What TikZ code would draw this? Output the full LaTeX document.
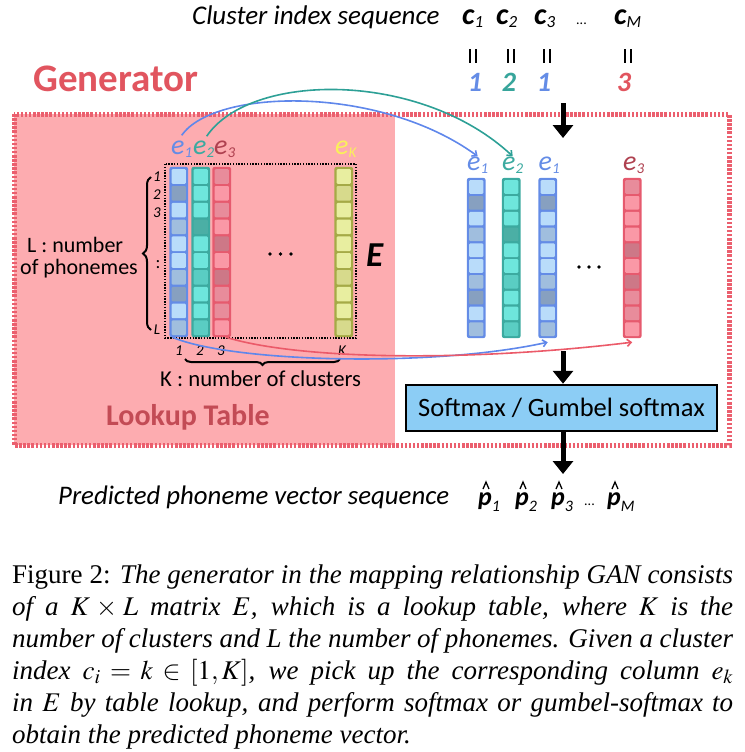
\documentclass[tikz,border=0pt]{standalone}
\usepackage{mathptmx}
\usepackage{fontspec}
\setmainfont{Liberation Serif}
\newfontfamily\calib{Carlito}
\usetikzlibrary{arrows.meta,decorations.pathreplacing,fit}
\newcommand\fsz[1]{\fontsize{#1}{#1}\selectfont}
\newcommand\sbs[1]{\raisebox{-3pt}{\fsz{15}#1}}
\newcommand\csub[1]{{\bfseries c}\raisebox{-2.5pt}{\mdseries\fsz{17}#1}}
\newcommand\pvec[1]{{\bfseries p}\raisebox{-6pt}{\mdseries\fsz{16}#1}}
\definecolor{bB}{RGB}{100,140,230}
\definecolor{bL}{RGB}{185,220,250}
\definecolor{bM}{RGB}{160,190,222}
\definecolor{bD}{RGB}{135,160,192}
\definecolor{tB}{RGB}{60,170,160}
\definecolor{tL}{RGB}{110,230,220}
\definecolor{tM}{RGB}{90,205,195}
\definecolor{tD}{RGB}{75,175,165}
\definecolor{rB}{RGB}{230,90,110}
\definecolor{rL}{RGB}{250,152,166}
\definecolor{rM}{RGB}{232,140,155}
\definecolor{rD}{RGB}{205,120,135}
\definecolor{yB}{RGB}{165,170,70}
\definecolor{yL}{RGB}{232,238,160}
\definecolor{yM}{RGB}{215,218,140}
\definecolor{yD}{RGB}{200,200,120}
\definecolor{pinkbg}{RGB}{253,172,176}
\definecolor{dashred}{RGB}{235,95,110}
\definecolor{genred}{RGB}{225,85,95}
\definecolor{lookred}{RGB}{195,75,85}
\definecolor{softblue}{RGB}{140,205,245}
\definecolor{e3lab}{RGB}{175,65,80}
\definecolor{eKlab}{RGB}{250,240,90}
\definecolor{lnblue}{RGB}{95,135,235}
\definecolor{lnteal}{RGB}{45,160,150}
\definecolor{lnred}{RGB}{235,90,105}
\definecolor{numteal}{RGB}{55,165,155}
% column: name, xleft, ytop, cell height, colour prefix, shades
\newcommand\vcol[6]{%
  \node[fit={(#2,#3) (#2+18.5,#3+10*#4+2)}, inner sep=0pt] (#1) {};
  \fill[#5B, rounded corners=2.5pt] (#1.north west) rectangle (#1.south east);
  \foreach \s [count=\i from 0] in {#6}
    \fill[fill=#5\s, rounded corners=1pt] (#2+2.2,#3+2.2+\i*#4) rectangle (#2+16.3,#3+\i*#4+#4);
}
\begin{document}
\begin{tikzpicture}[x=1pt,y=-1pt,
  txt/.style={inner sep=0pt, font=\calib},
  lab/.style={inner sep=0pt, anchor=base west, font=\calib\itshape\fsz{28}},
  small/.style={inner sep=0pt, font=\calib\itshape\fsz{15}},
  eqbox/.style={inner sep=0pt, minimum width=5.5pt, minimum height=13pt},
  hatline/.style={line width=1.3pt, line join=miter},
  bigarrow/.style={line width=5pt, -{Triangle[width=20pt,length=13pt]}},
  thinarrow/.style={line width=1.6pt, -{Straight Barb[length=4pt,width=7pt]}},
]
\useasboundingbox (0,0) rectangle (744,752);
% background panels
\fill[pinkbg] (14,114) rectangle (395,445);
\draw[dashred, line width=5pt, dash pattern=on 2.5pt off 1.6pt] (14,114) rectangle (729,445);
% header
\node[txt, anchor=base west, font=\calib\itshape\fsz{27}] (clseq) at (192,25) {Cluster index sequence};
\node[txt, anchor=base west, font=\calib\itshape\fsz{30}] (c1) at (462,25) {\csub{1}};
\node[txt, anchor=base west, font=\calib\itshape\fsz{30}] (c2) at (496,25) {\csub{2}};
\node[txt, anchor=base west, font=\calib\itshape\fsz{30}] (c3) at (534,25) {\csub{3}};
\node[txt, anchor=base west, font=\calib\fsz{14}] (cdots) at (576,25) {...};
\node[txt, anchor=base west, font=\calib\itshape\fsz{30}] (cM) at (614,25) {\csub{M}};
\foreach \n/\x in {q1/473,q2/511,q3/547,q4/628}{
  \node[eqbox] (\n) at (\x,56) {};
  \draw[line width=2pt] (\n.north west) -- (\n.south west) (\n.north east) -- (\n.south east);
}
\node[txt, anchor=base, font=\calib\bfseries\itshape\fsz{28}, text=bB] (n1) at (475,92) {1};
\node[txt, anchor=base, font=\calib\bfseries\itshape\fsz{28}, text=numteal] (n2) at (509,92) {2};
\node[txt, anchor=base, font=\calib\bfseries\itshape\fsz{28}, text=bB] (n3) at (544,92) {1};
\node[txt, anchor=base, font=\calib\bfseries\itshape\fsz{28}, text=genred] (n4) at (624,92) {3};
\node[txt, anchor=base west, font=\calib\bfseries\fsz{39}, text=genred] (gen) at (33,92) {Generator};
% matrix
\draw[black, line width=1.6pt, dash pattern=on 1.4pt off 1.4pt] (165,164) rectangle (356,338);
\vcol{colL1}{169.5}{167}{16.8}{b}{L,D,L,M,L,L,M,D,L,M}
\vcol{colL2}{191.5}{167}{16.8}{t}{L,L,L,D,L,L,M,L,L,M}
\vcol{colL3}{212.5}{167}{16.8}{r}{M,L,M,L,D,L,D,M,M,L}
\vcol{colLK}{334.5}{167}{16.8}{y}{L,M,L,L,L,L,M,L,L,M}
\node[lab, text=bB] (le1) at (171,154) {e\sbs{1}};
\node[lab, text=tB] (le2) at (193,154) {e\sbs{2}};
\node[lab, text=e3lab] (le3) at (214,154) {e\sbs{3}};
\node[lab, text=eKlab] (leK) at (335,154) {e\sbs{K}};
\node[small, anchor=base] (r1) at (157,181) {1};
\node[small, anchor=base] (r2) at (157,199) {2};
\node[small, anchor=base] (r3) at (157,217) {3};
\node[small, anchor=base, font=\calib\fsz{18}] (rv) at (158,268) {:};
\node[small, anchor=base] (rL) at (157,334) {L};
\node[small, anchor=base] (k1) at (179,355) {1};
\node[small, anchor=base] (k2) at (200,355) {2};
\node[small, anchor=base] (k3) at (221,355) {3};
\node[small, anchor=base] (kK) at (342,355) {K};
\foreach \x in {270,280.5,291} \fill (\x,254) circle (1.8);
\node[txt, anchor=base west, font=\calib\bfseries\itshape\fsz{35}] (E) at (366,266) {E};
\coordinate (lbB) at (151,330);
\coordinate (lbT) at (151,177);
\draw[line width=2pt, decorate, decoration={brace, amplitude=8pt}] (lbB) -- (lbT);
\node[txt, anchor=base west, font=\calib\fsz{22}] (Lt1) at (27,252) {L : number};
\node[txt, anchor=base west, font=\calib\fsz{22}] (Lt2) at (20,274) {of phonemes};
\coordinate (kbR) at (340,359);
\coordinate (kbL) at (185,359);
\draw[line width=2pt, decorate, decoration={brace, amplitude=6pt}] (kbR) -- (kbL);
\node[txt, anchor=base west, font=\calib\fsz{22.7}] (Kt) at (160,386) {K : number of clusters};
\node[txt, anchor=base west, font=\calib\bfseries\fsz{30}, text=lookred] (look) at (106,425) {Lookup Table};
% right columns
\vcol{colR1}{467}{178}{15.8}{b}{L,D,L,M,L,L,M,D,L,M}
\vcol{colR2}{502}{178}{15.8}{t}{L,L,L,D,L,L,M,L,L,M}
\vcol{colR3}{538.5}{178}{15.8}{b}{L,D,L,M,L,L,M,D,L,M}
\vcol{colR4}{623}{178}{15.8}{r}{M,L,L,L,D,L,D,M,M,L}
\node[lab, text=bB] (re1) at (467,170) {e\sbs{1}};
\node[lab, text=tB] (re2) at (502,170) {e\sbs{2}};
\node[lab, text=bB] (re3) at (538.5,170) {e\sbs{1}};
\node[lab, text=e3lab] (re4) at (623,170) {e\sbs{3}};
\foreach \x in {579,589,599} \fill (\x,267) circle (1.8);
% softmax
\node[draw=black, line width=2.5pt, fill=softblue, minimum width=311pt, minimum height=46pt, inner sep=0pt, font=\calib\fsz{26.5}] (soft) at (561.5,408) {Softmax / Gumbel softmax};
% big arrows
\coordinate (aT) at (563,103);
\coordinate (aTe) at (563,138);
\draw[bigarrow] (aT) -- (aTe);
\coordinate (aM) at (563,351);
\draw[bigarrow] (aM) -- (soft.north -| aM);
\coordinate (aBe) at (563,474);
\draw[bigarrow] (soft.south -| aBe) -- (aBe);
% connectors
\draw[thinarrow, lnblue] ([yshift=5pt]le1.north) .. controls (215,88) and (380,85) .. (re1.north);
\draw[thinarrow, lnteal] ([xshift=3pt,yshift=4pt]le2.north) .. controls (250,72) and (420,70) .. (re2.north);
\draw[thinarrow, lnblue] ([xshift=3pt]colL1.south west) .. controls (230,362) and (430,368) .. ([yshift=-4pt]colR3.south);
\draw[thinarrow, lnred] ([xshift=4pt]colL3.south) .. controls (300,360) and (470,362) .. ([yshift=-4pt]colR4.south);
% output
\node[txt, anchor=base west, font=\calib\itshape\fsz{26.8}] (pred) at (58,504) {Predicted phoneme vector sequence};
\node[txt, anchor=base west, font=\calib\itshape\fsz{26}] (p1) at (478,505) {\pvec{1}};
\node[txt, anchor=base west, font=\calib\itshape\fsz{26}] (p2) at (515,505) {\pvec{2}};
\node[txt, anchor=base west, font=\calib\itshape\fsz{26}] (p3) at (551,505) {\pvec{3}};
\node[txt, anchor=base west, font=\calib\fsz{14}] (pdots) at (584,505) {...};
\node[txt, anchor=base west, font=\calib\itshape\fsz{26}] (pM) at (607,505) {\pvec{M}};
\foreach \p in {p1,p2,p3,pM}
  \draw[hatline] ([xshift=5pt,yshift=16pt]\p.base west) -- ([xshift=8pt,yshift=23pt]\p.base west) -- ([xshift=11pt,yshift=16pt]\p.base west);
% caption
\node[anchor=base west, inner sep=0pt] (cap) at (12,583) {\begin{minipage}[t]{721pt}
\fontsize{27}{32}\selectfont\parindent=0pt
Figure 2: \itshape The generator in the mapping relationship GAN consists\linebreak
of a $K \times L$ matrix $E$, which is a lookup table, where $K$ is the\linebreak
number of clusters and L the number of phonemes. Given a cluster\linebreak
index $c_i = k \in [1, K]$, we pick up the corresponding column $e_k$\linebreak
in $E$ by table lookup, and perform softmax or gumbel-softmax to\linebreak
obtain the predicted phoneme vector.
\end{minipage}};
\end{tikzpicture}
\end{document}
